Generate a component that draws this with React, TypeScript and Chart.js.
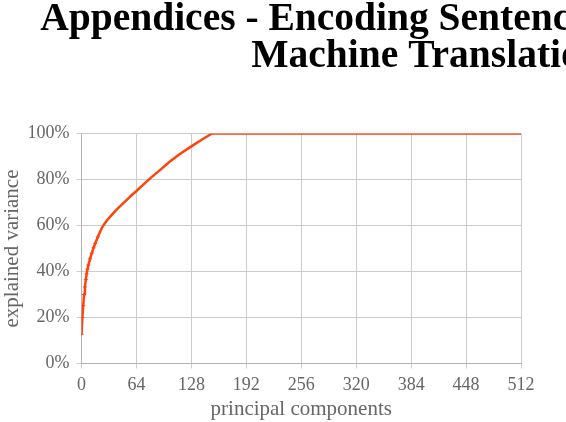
import React, { useEffect, useRef } from "react";
import { Chart, registerables } from "chart.js";

Chart.register(...registerables);

const titleLines = ["Appendices - Encoding Sentences with Neural", "Machine Translation"];
const xAxisTitle = "principal components";
const yAxisTitle = "explained variance";
const xTicks = [0, 64, 128, 192, 256, 320, 384, 448, 512];
const yTicks = [0, 20, 40, 60, 80, 100];
const components = [0, 1, 2, 3, 4, 5, 6, 7, 8, 10, 12, 14, 16, 19, 22, 25, 30, 35, 42, 50, 57, 64, 72, 80, 92, 103, 115, 128, 140, 152, 192, 256, 320, 384, 448, 512];
const explained = [12.7, 20, 25.2, 30, 33.3, 36.5, 39, 41, 42.8, 45.5, 48, 50.3, 52.2, 55, 57.6, 59.8, 62.4, 64.5, 67.3, 70.2, 72.7, 75, 77.8, 80.5, 84.3, 87.8, 91.2, 94.4, 97.3, 100, 100, 100, 100, 100, 100, 100];

const titlePlugin = {
  id: "pageTitle",
  afterDraw(chart: any) {
    const ctx = chart.ctx;
    ctx.save();
    ctx.fillStyle = "#000";
    ctx.font = "bold 39.5px 'Liberation Serif', serif";
    ctx.textAlign = "center";
    ctx.textBaseline = "alphabetic";
    ctx.fillText(titleLines[0], 427, 30);
    ctx.fillText(titleLines[1], 427, 67);
    ctx.restore();
  },
};

export default function App() {
  const ref = useRef<HTMLCanvasElement>(null);
  useEffect(() => {
    if (!ref.current) return;
    const gray = "#666666";
    const chart = new Chart(ref.current, {
      type: "line",
      data: {
        datasets: [
          {
            data: components.map((c, i) => ({ x: c, y: explained[i] })),
            borderColor: "#ff420e",
            backgroundColor: "#ff420e",
            borderWidth: 2.5,
            borderJoinStyle: "round",
            pointStyle: "cross",
            pointRadius: (ctx: any) => (components[ctx.dataIndex] < 20 ? 2 : 0),
            pointBorderWidth: 1,
            tension: 0,
          },
        ],
      },
      options: {
        animation: false,
        responsive: false,
        layout: { padding: { top: 133.5, right: 45, left: 0, bottom: 0 } },
        plugins: { legend: { display: false }, tooltip: { enabled: false }, title: { display: false } },
        scales: {
          x: {
            type: "linear",
            min: 0,
            max: 512,
            afterBuildTicks: (s: any) => {
              s.ticks = xTicks.map((v) => ({ value: v }));
            },
            ticks: { color: gray, font: { family: "'Liberation Serif', serif", size: 18 }, padding: 6, maxRotation: 0, autoSkip: false },
            grid: { color: "#cccccc", tickLength: 5, lineWidth: 1 },
            border: { color: "#b3b3b3" },
            title: { display: true, text: xAxisTitle, color: gray, font: { family: "'Liberation Serif', serif", size: 21 }, padding: { top: 0, bottom: 0 } },
            afterFit: (s: any) => {
              s.height = 58.5;
            },
          },
          y: {
            min: 0,
            max: 100,
            afterBuildTicks: (s: any) => {
              s.ticks = yTicks.map((v) => ({ value: v }));
            },
            ticks: { color: gray, font: { family: "'Liberation Serif', serif", size: 18 }, padding: 7, callback: (v: any) => v + "%" },
            grid: { color: "#cccccc", tickLength: 5, lineWidth: 1 },
            border: { color: "#b3b3b3" },
            title: { display: true, text: yAxisTitle, color: gray, font: { family: "'Liberation Serif', serif", size: 21 }, padding: { top: 0, bottom: 0 } },
            afterFit: (s: any) => {
              s.width = 81.5;
            },
          },
        },
      },
      plugins: [titlePlugin],
    } as any);
    return () => chart.destroy();
  }, []);
  return (
    <div style={{ position: "fixed", left: 0, top: 0, width: 566, height: 422, background: "#fff" }}>
      <canvas ref={ref} width={566} height={422} style={{ width: 566, height: 422 }} />
    </div>
  );
}
